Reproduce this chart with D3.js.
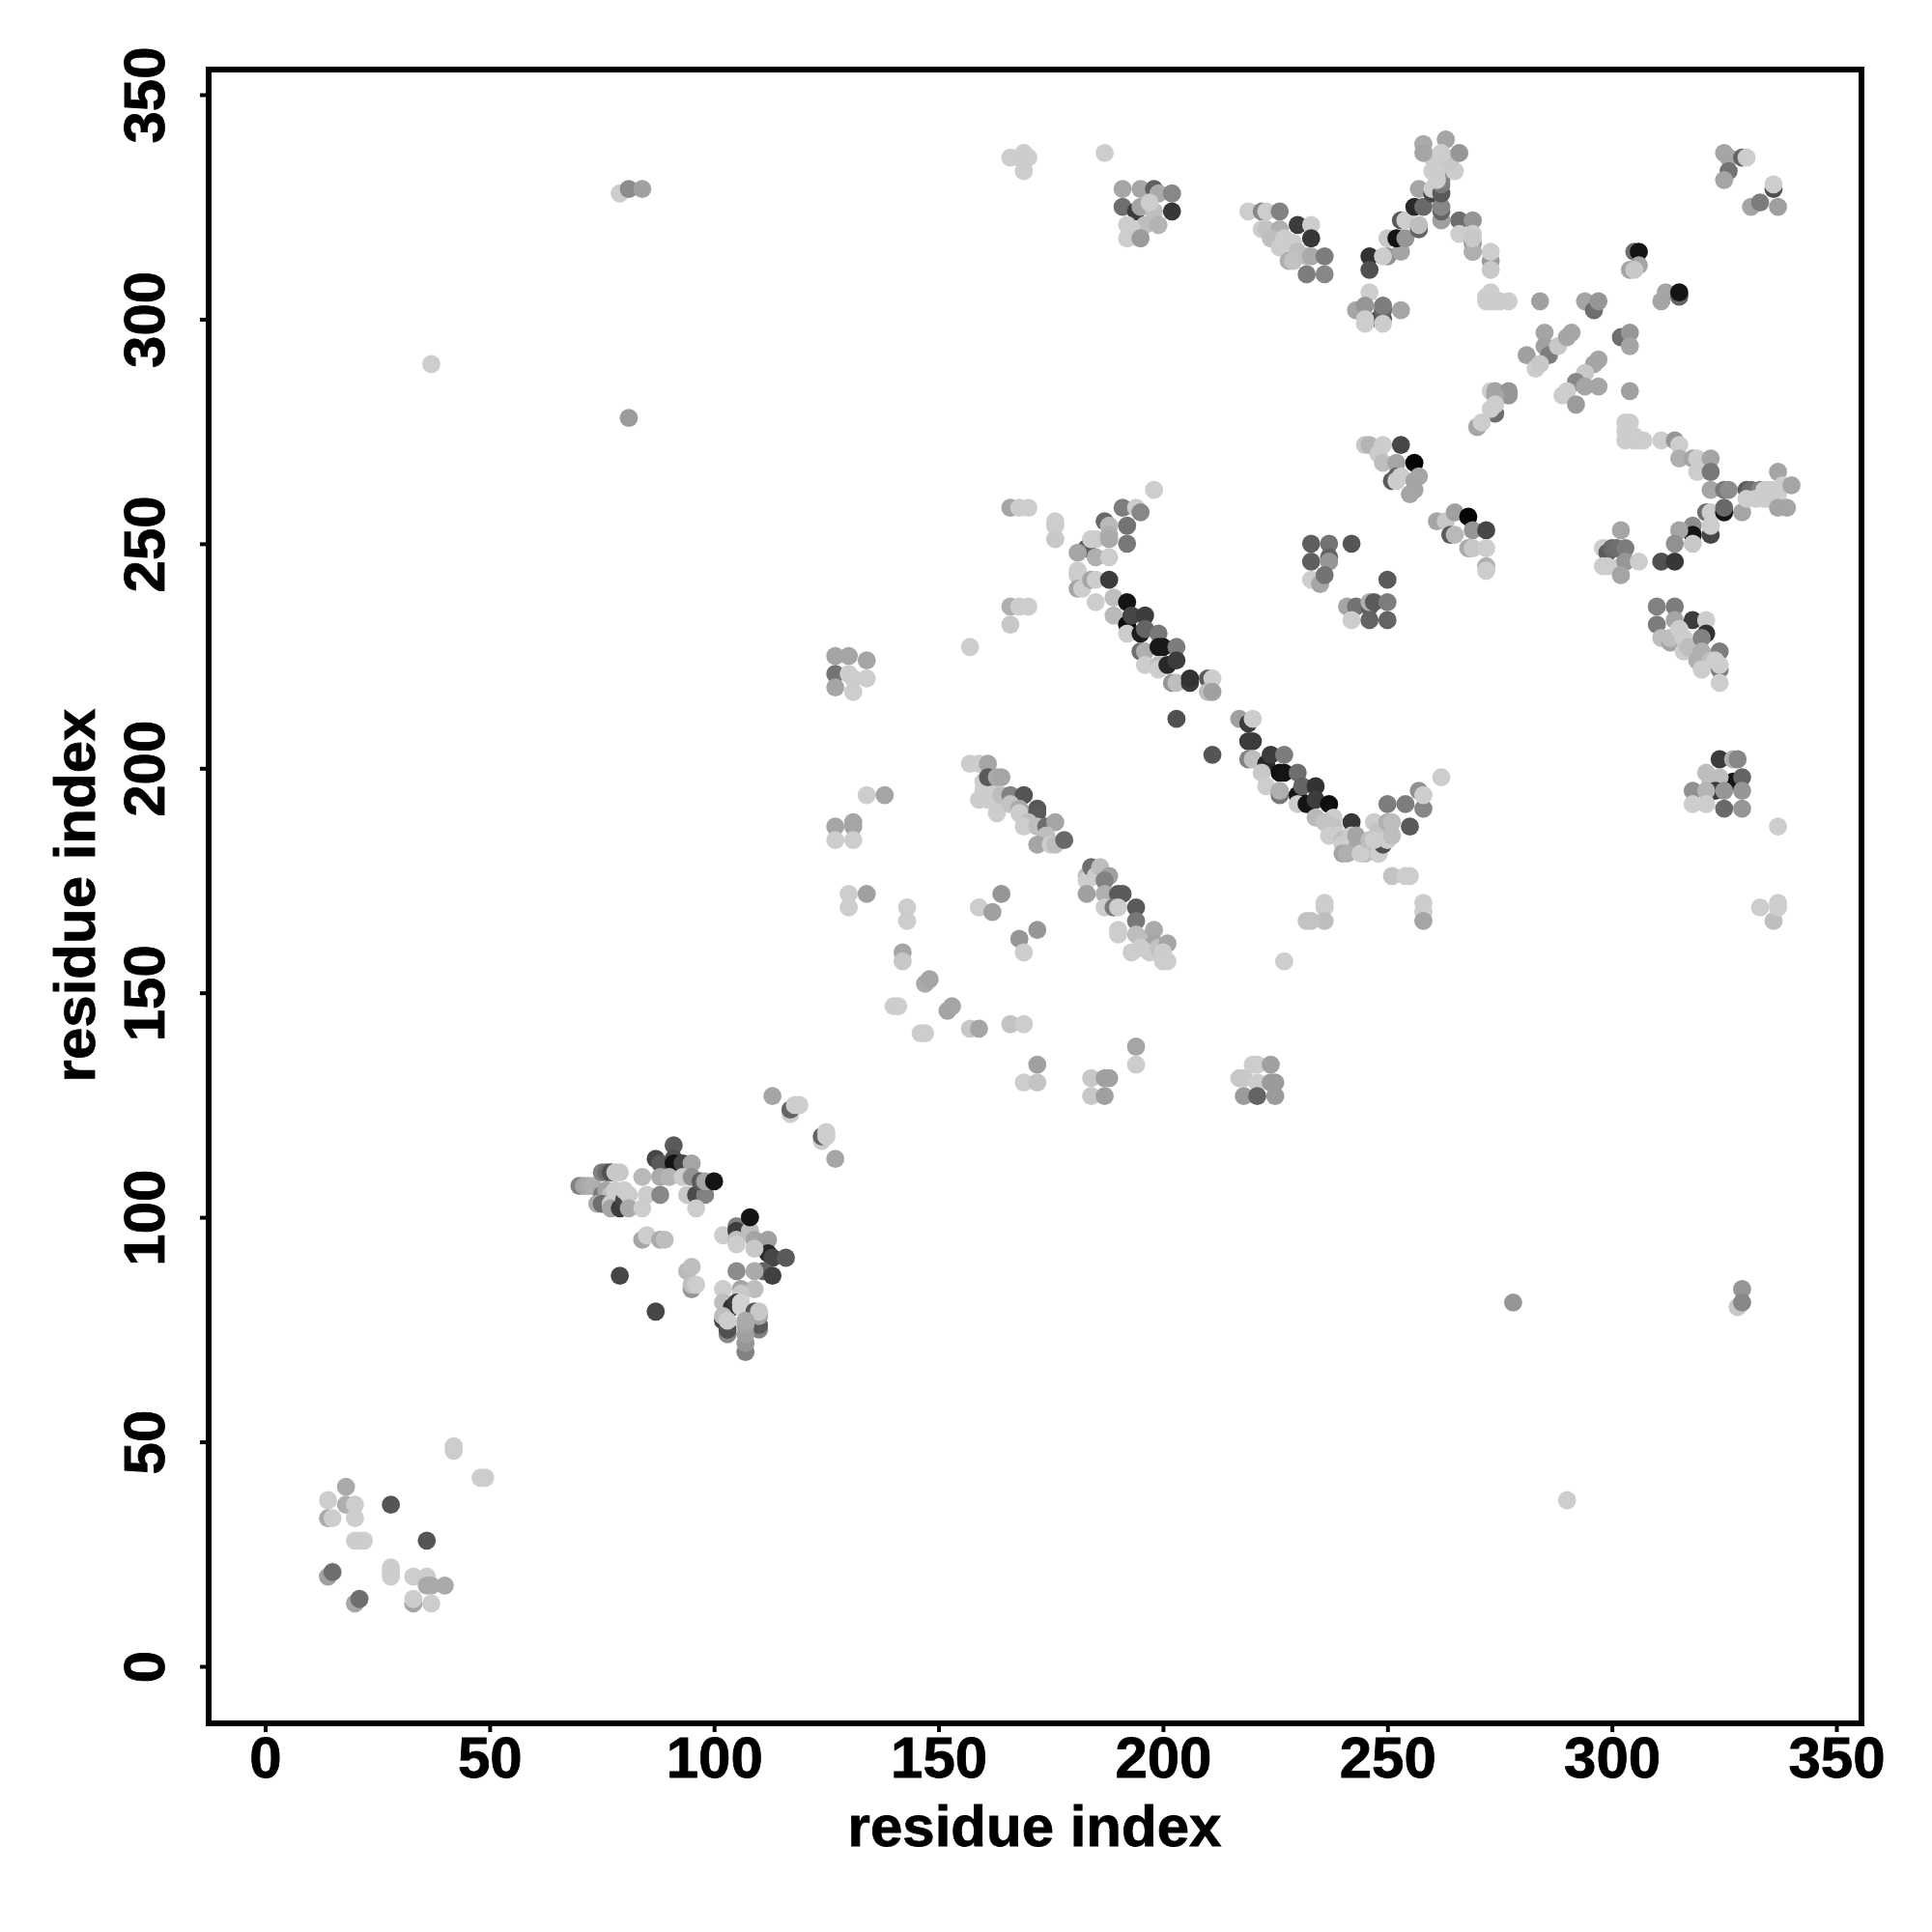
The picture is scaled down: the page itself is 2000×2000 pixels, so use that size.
<!DOCTYPE html>
<html><head><meta charset="utf-8">
<script src="https://cdn.jsdelivr.net/npm/d3@7"></script>
<style>html,body{margin:0;background:#fff}svg{display:block}</style></head><body>
<svg id="c" width="2000" height="2000"></svg>
<script>
// [residue x, residue y, grey level of the contact]
const nTerminal=[[14,37,205],[18,40,170],[18,36,175],[20,36,205],[14,33,170],[15,33,205],[20,33,205],[28,36,85],[36,28,85],[20,28,205],[21,28,205],[22,28,205],[28,22,205],[28,21,205],[28,20,205],[14,20,160],[15,21,110],[33,20,205],[36,20,205],[36,18,170],[37,18,170],[40,18,170],[20,14,165],[21,15,110],[33,14,165],[33,15,205],[37,14,205],[42,49,205],[42,48,205],[48,42,205],[49,42,205]];
const cluster100=[[70,107,130],[71,107,165],[72,107,170],[73,107,175],[75,110,130],[76,110,110],[77,110,80],[78,110,200],[79,110,200],[75,105,120],[76,106,165],[77,105,190],[74,103,170],[75,103,110],[77,103,205],[78,104,205],[78,106,205],[77,102,165],[79,102,60],[80,104,70],[80,106,205],[81,105,205],[81,102,170],[84,102,205],[85,105,205],[84,109,185],[91,116,90],[87,113,70],[88,112,90],[91,113,80],[91,112,20],[93,112,70],[95,112,165],[88,109,170],[90,109,180],[93,109,205],[95,109,145],[88,105,135],[94,105,200],[96,105,75],[98,105,130],[96,102,205],[97,108,90],[98,108,165],[100,108,20],[102,96,205],[105,98,130],[105,97,60],[105,95,190],[105,94,205],[108,97,190],[108,100,20],[109,95,165],[112,95,160],[112,92,40],[109,93,200],[113,91,70],[116,91,90],[111,88,100],[113,87,65],[109,88,170],[105,88,140],[102,84,205],[106,84,165],[109,84,190],[106,83,200],[79,87,70],[87,79,70],[84,95,165],[85,96,205],[88,95,170],[89,95,190],[94,88,185],[95,89,190],[95,84,150],[95,85,190],[96,85,205],[102,81,190],[104,80,50],[105,81,60],[106,81,210],[106,80,210],[102,77,70],[102,78,190],[103,74,135],[103,75,80],[103,77,205],[109,79,85],[110,75,130],[110,76,90],[110,78,165],[110,79,200],[107,70,130],[107,72,150],[107,74,160],[107,76,165],[107,77,170],[113,127,165],[117,123,205],[117,124,100],[118,125,205],[119,125,205],[124,117,205],[124,118,100],[125,118,205],[125,119,205],[127,113,165]];
const isolated=[[37,290,205],[81,278,155],[79,328,205],[81,329,140],[84,329,160],[166,336,205],[168,336,205],[169,337,205],[170,336,205],[169,333,205],[187,337,205],[278,81,150],[329,84,150],[328,80,200],[329,81,135],[290,37,205],[337,187,205],[333,169,205],[337,170,205],[336,166,190],[337,169,205],[157,227,205]];
const middleLeft=[[127,225,165],[130,225,165],[134,224,165],[127,221,115],[130,221,205],[131,220,205],[134,220,205],[127,218,165],[131,217,205],[134,194,205],[138,194,165],[127,187,165],[131,187,165],[131,188,165],[127,184,205],[131,184,205],[130,172,205],[134,172,160],[130,169,205],[143,169,205],[143,166,205],[142,159,165],[142,157,200],[140,147,205],[141,147,205],[146,141,205],[147,141,205],[147,152,170],[148,153,165],[152,146,165],[153,147,165],[157,142,200],[159,142,165],[164,172,150],[159,169,205],[162,168,160],[172,164,150],[168,162,150],[169,159,205],[166,143,195],[169,143,205],[172,134,160],[169,130,205],[172,130,195],[184,131,200],[187,131,160],[188,131,160],[184,127,200],[187,127,160],[194,138,165],[194,134,205],[166,236,175],[168,236,205],[170,236,205],[166,232,200]];
const helixArc=[[166,258,165],[168,258,205],[170,258,205],[176,255,205],[176,254,205],[176,251,200],[198,262,205],[191,258,125],[194,258,205],[195,257,135],[187,255,105],[188,254,185],[192,254,115],[183,249,90],[184,251,205],[185,251,205],[188,252,175],[188,251,170],[192,250,120],[181,248,165],[185,247,175],[188,247,205],[181,244,205],[181,243,205],[181,240,165],[182,240,205],[184,242,165],[185,242,205],[188,242,60],[185,237,205],[189,238,190],[189,234,185],[192,237,20],[192,232,10],[193,234,70],[196,234,60],[192,230,205],[195,230,30],[196,231,100],[199,230,120],[195,226,110],[196,226,175],[199,227,25],[200,227,25],[203,227,125],[196,223,205],[199,223,190],[199,222,205],[201,223,40],[203,224,60],[202,219,150],[203,219,190],[206,219,60],[206,220,50],[210,220,90],[211,220,205],[210,217,190],[211,217,160],[203,211,80],[211,203,85]];
const helixArc2=[[217,211,160],[219,210,60],[220,211,205],[219,206,60],[220,206,60],[219,202,130],[220,202,190],[223,201,40],[224,203,60],[227,203,125],[222,199,200],[226,199,15],[227,199,20],[230,199,110],[223,196,205],[226,194,120],[226,195,175],[230,194,20],[231,196,100],[234,196,50],[230,192,205],[232,192,20],[234,193,60],[237,192,15],[234,189,185],[238,189,205],[236,188,195],[238,187,195],[242,188,55],[237,185,205],[239,185,205],[240,184,190],[240,183,205],[242,185,205],[243,185,165],[243,182,165],[240,181,165],[241,181,175],[245,181,190],[244,181,205],[248,181,165],[248,181,205],[247,188,205],[248,186,195],[246,184,190],[250,188,175],[251,188,190],[250,192,125],[254,192,125],[249,183,80],[247,184,205],[250,184,205],[251,185,190],[255,187,90],[258,191,135],[257,195,145],[258,194,205],[262,198,205],[251,176,195],[254,176,205],[255,176,205],[258,170,205],[258,168,205],[258,166,165]];
const antiChain=[[157,201,205],[159,201,205],[161,201,165],[159,193,205],[160,197,205],[160,195,205],[161,193,205],[162,195,205],[161,198,90],[163,198,170],[164,198,165],[163,193,205],[164,194,190],[166,194,130],[169,194,85],[163,190,205],[166,192,195],[168,191,170],[169,189,140],[168,190,205],[172,191,85],[172,190,90],[170,188,190],[169,187,205],[172,187,190],[174,187,110],[176,188,165],[174,185,190],[172,183,165],[175,183,205],[176,183,190],[178,184,105],[183,176,190],[183,175,205],[184,178,110],[185,176,205],[186,178,190],[188,176,160],[187,175,130],[183,172,160],[187,172,175],[190,172,90],[191,172,90],[187,169,205],[189,169,120],[190,169,205],[194,169,90],[194,166,120],[190,163,205],[190,164,205],[194,163,190],[196,162,190],[198,164,170],[198,161,165],[193,159,205],[195,160,205],[197,159,205],[199,160,195],[201,161,165],[200,159,205],[200,157,205],[201,157,205],[236,170,205],[236,169,205],[236,166,190],[232,166,195],[233,166,195],[227,157,205],[220,134,205],[221,134,205],[224,134,160],[217,131,200],[218,131,200],[221,130,205],[224,130,155],[225,130,155],[218,127,155],[221,127,100],[225,127,155]];
const block240=[[233,250,95],[237,250,115],[242,250,85],[233,246,95],[237,247,100],[237,246,150],[233,242,205],[235,241,165],[236,243,115],[250,242,90],[241,236,165],[243,236,115],[246,236,95],[246,237,175],[247,237,90],[250,237,125],[242,233,205],[246,233,100],[250,233,100],[245,272,200],[246,272,180],[249,272,205],[248,270,205],[253,272,70],[249,268,190],[251,264,90],[252,268,165],[252,265,100],[252,264,205],[253,265,205],[256,268,5],[256,264,165],[257,265,165],[256,262,165],[255,261,165],[261,255,165],[263,255,200],[265,257,160],[264,252,90],[265,252,185],[268,256,5],[269,253,150],[272,253,70],[268,249,170],[269,249,200],[272,249,205],[272,245,175],[272,244,205]];
const topBlocks=[[191,329,165],[195,329,165],[198,329,95],[199,328,170],[202,328,135],[191,325,110],[194,324,60],[195,325,165],[198,324,190],[202,324,55],[197,326,205],[198,322,190],[192,321,205],[196,321,190],[199,321,180],[193,320,205],[192,318,205],[195,318,155],[219,324,205],[222,324,135],[223,324,205],[226,324,130],[222,320,205],[223,320,195],[226,320,175],[230,321,60],[233,321,205],[233,318,55],[224,318,190],[227,318,205],[226,316,205],[229,317,205],[230,315,190],[228,313,175],[229,313,195],[232,314,190],[233,314,170],[236,314,125],[232,310,125],[236,310,135]];
const topRidge=[[246,314,50],[246,311,80],[250,314,145],[249,314,205],[253,315,165],[250,318,200],[252,318,20],[254,318,150],[253,322,90],[254,322,205],[257,320,100],[257,321,190],[256,325,40],[258,325,105],[257,329,165],[260,328,70],[260,329,205],[262,322,160],[262,324,100],[262,325,135],[262,328,90],[262,330,120],[262,331,130],[262,333,150],[262,335,205],[260,336,205],[260,333,205],[261,333,205],[261,331,205],[263,336,205],[265,333,205],[264,335,200],[258,339,170],[258,337,165],[263,340,165],[266,337,150],[262,337,205],[266,322,110],[269,322,150],[266,319,205],[269,319,205],[269,315,175],[243,302,165],[246,306,205],[245,303,150],[253,302,165],[249,300,80],[248,300,80],[249,302,100],[249,303,125],[245,300,205],[245,299,205],[249,299,205]];
const topRight=[[325,337,165],[326,336,165],[329,336,100],[330,336,205],[326,333,115],[325,331,165],[336,329,80],[336,330,205],[331,325,165],[333,326,125],[337,325,160],[305,315,110],[306,315,20],[304,311,165],[306,312,165],[305,311,200],[311,304,165],[312,306,165],[315,305,100],[315,306,20],[284,304,160],[294,304,165],[296,302,110],[297,304,150],[273,306,205],[272,305,205],[273,305,205],[272,304,205],[273,304,205],[274,304,205],[275,304,205],[277,304,205],[269,317,145],[269,315,175],[269,318,200],[273,313,155],[273,315,205],[273,311,200],[285,297,165],[285,294,160],[286,292,125],[281,292,160],[288,294,200],[290,296,165],[291,297,165],[283,289,205],[284,290,200],[302,296,110],[304,297,150],[304,294,165],[297,291,165],[296,290,165],[294,288,200],[292,286,135],[294,285,165],[297,285,165],[289,283,205],[290,284,205],[292,281,155],[304,284,160],[273,284,205],[274,284,165],[277,284,150],[277,283,150],[274,279,110],[274,283,165],[274,281,205],[273,280,205],[270,276,165],[271,277,205]];
const rightBranch=[[303,277,205],[304,277,205],[303,275,205],[303,273,205],[305,273,205],[306,273,205],[307,273,205],[305,274,205],[311,273,205],[314,273,150],[315,272,205],[315,269,175],[318,269,165],[319,269,205],[322,269,165],[319,266,205],[322,266,120],[322,262,165],[325,262,120],[326,262,140],[329,257,165],[330,262,90],[331,262,110],[333,262,130],[330,260,205],[332,260,205],[334,262,205],[335,262,205],[335,260,205],[336,262,205],[334,260,205],[337,261,205],[337,266,165],[338,263,205],[340,263,165],[337,258,165],[339,258,165],[321,257,110],[322,257,205],[325,257,20],[325,258,105],[318,254,140],[318,252,20],[318,250,200],[322,252,70],[322,254,205],[315,253,165],[314,250,145],[311,246,80],[314,246,55]];
const rightBlocks=[[302,253,165],[298,249,205],[299,248,90],[300,249,105],[301,249,110],[303,249,125],[298,245,205],[299,245,205],[302,245,205],[303,246,150],[306,246,205],[302,243,165],[310,236,130],[314,236,125],[310,232,125],[314,233,165],[311,229,190],[313,228,165],[313,229,190],[318,233,60],[321,233,205],[321,230,50],[315,231,205],[316,229,205],[316,226,205],[317,227,190],[320,229,130],[320,226,175],[324,226,125],[319,224,175],[322,224,190],[320,222,205],[324,222,125],[324,223,205],[323,224,205],[324,219,205],[324,202,60],[327,202,175],[328,202,135],[321,199,190],[327,197,20],[329,198,100],[324,198,190],[322,197,190],[323,195,60],[318,195,145],[321,195,180],[325,195,150],[329,195,150],[318,192,205],[321,192,205],[325,191,105],[329,191,150]];
const allContacts=[...nTerminal,...isolated,...cluster100,...middleLeft,...helixArc,...helixArc2,...antiChain,...block240,...topBlocks,...topRidge,...topRight,...rightBranch,...rightBlocks];
const tickValues=[0,50,100,150,200,250,300,350];
const axisTitle="residue index";

const box={l:216,r:1927,t:72,b:1784};
const x=d3.scaleLinear().domain([0,350]).range([274.5,1901]);
const y=d3.scaleLinear().domain([0,350]).range([1725,98]);
const grey=v=>d3.rgb(v,v,v);
const svg=d3.select("#c");
const font='"Liberation Sans",Arial,sans-serif';
const textStyle=s=>s.attr("fill","#000").attr("stroke","#000").attr("stroke-width",0.8)
  .attr("font-family",font).attr("font-weight","bold").attr("font-size",60);

svg.append("g").selectAll("circle").data(allContacts).join("circle")
  .attr("cx",d=>x(d[0])).attr("cy",d=>y(d[1])).attr("r",9.4).attr("fill",d=>grey(d[2]));

svg.append("rect").attr("x",box.l).attr("y",box.t).attr("width",box.r-box.l).attr("height",box.b-box.t)
  .attr("fill","none").attr("stroke","#000").attr("stroke-width",6);

const ax=svg.append("g").attr("transform",`translate(0,${box.b})`)
  .call(d3.axisBottom(x).tickValues(tickValues).tickSize(9).tickFormat(d3.format("d")));
const ay=svg.append("g").attr("transform",`translate(${box.l},0)`)
  .call(d3.axisLeft(y).tickValues(tickValues).tickSize(9).tickFormat(d3.format("d")));
[ax,ay].forEach(g=>{
  g.select(".domain").remove();
  g.selectAll("line").attr("stroke","#000").attr("stroke-width",4);
  g.selectAll("text").call(textStyle);
});
ax.selectAll("text").attr("y",0).attr("dy",0).attr("transform","translate(0,56)").attr("text-anchor","middle");
ay.selectAll("text").attr("x",0).attr("dy",0).attr("text-anchor","middle")
  .attr("transform","translate(-46,0) rotate(-90)");

svg.append("text").attr("x",1071).attr("y",1911).attr("text-anchor","middle").call(textStyle).text(axisTitle);
svg.append("text").attr("transform","translate(98,927) rotate(-90)").attr("text-anchor","middle").call(textStyle).text(axisTitle);
</script></body></html>
